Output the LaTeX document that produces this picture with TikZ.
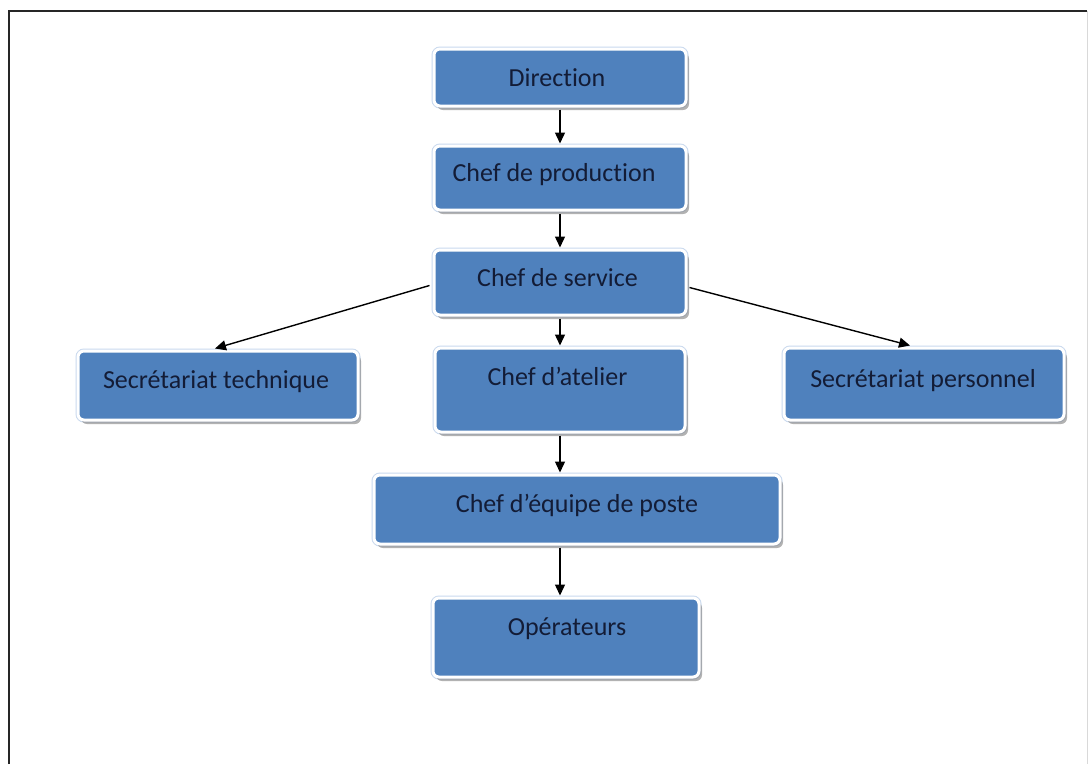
\documentclass[tikz,border=0pt]{standalone}
\usepackage{fontspec}
\setmainfont{Carlito}[Ligatures=NoCommon]
\usetikzlibrary{arrows.meta,shadows}
\definecolor{boxblue}{HTML}{4F81BD}
\definecolor{txtcol}{HTML}{131C36}
\definecolor{glow}{HTML}{C9D9EE}
\tikzset{
  orgbox/.style={rectangle, rounded corners=6pt, fill=boxblue, draw=white, line width=3pt,
    preaction={draw=glow, line width=5pt},
    drop shadow={shadow xshift=3pt, shadow yshift=-4pt, fill=gray, opacity=0.6},
    inner sep=0pt},
  lbl/.style={anchor=base, text=txtcol, font=\fontsize{26}{29}\selectfont, inner sep=0pt},
  arr/.style={line width=1.4pt, -{Triangle[length=11pt,width=10pt]}}
}
\begin{document}
\begin{tikzpicture}[x=1pt,y=-1pt]
\useasboundingbox (0,0) rectangle (1090,764);
\fill[white] (0,0) rectangle (1090,764);
% frame
\coordinate (fbl) at (9,764);
\coordinate (ftl) at (9,11);
\coordinate (ftr) at (1087,11);
\coordinate (fbr) at (1087,764);
\draw[line width=2pt, black!85] (fbl) -- (ftl) -- (ftr);
\draw[line width=1pt, black!15] (ftr) -- (fbr);
% boxes
\node[orgbox, minimum width=252pt, minimum height=57pt] (dir) at (560,77.5) {};
\node[orgbox, minimum width=252pt, minimum height=64pt] (prod) at (560,178) {};
\node[orgbox, minimum width=252pt, minimum height=65pt] (serv) at (560,282.5) {};
\node[orgbox, minimum width=250pt, minimum height=84pt] (atel) at (560,390) {};
\node[orgbox, minimum width=280pt, minimum height=69pt] (tech) at (218,385.5) {};
\node[orgbox, minimum width=280pt, minimum height=72pt] (pers) at (924,384) {};
\node[orgbox, minimum width=406pt, minimum height=69pt] (equi) at (577,509.5) {};
\node[orgbox, minimum width=266pt, minimum height=79pt] (oper) at (566,637.5) {};
% labels
\node[lbl] (tdir) at (557,86.7) {Direction};
\node[lbl] (tprod) at (554,181.7) {Chef de production};
\node[lbl] (tserv) at (557.5,286) {Chef de service};
\node[lbl] (tatel) at (557.5,385) {Chef d’atelier};
\node[lbl] (ttech) at (216,388) {Secrétariat technique};
\node[lbl] (tpers) at (923,387) {Secrétariat personnel};
\node[lbl] (tequi) at (577,512) {Chef d’équipe de poste};
\node[lbl] (toper) at (567,635) {Opérateurs};
% connectors
\draw[arr] ([yshift=-2pt]dir.south) -- ([yshift=1pt]prod.north);
\draw[arr] ([yshift=-2pt]prod.south) -- ([yshift=1pt]serv.north);
\draw[arr] ([yshift=-2pt]serv.south) -- ([yshift=1pt]atel.north);
\draw[arr] ([yshift=-2pt]atel.south) -- ([yshift=1pt]atel.south |- equi.north);
\draw[arr] ([yshift=-2pt]equi.south -| atel.south) -- ([yshift=1pt]oper.north -| atel.south);
\draw[arr] ([xshift=-3pt,yshift=-3pt]serv.west) -- ([xshift=-3pt,yshift=1pt]tech.north);
\draw[arr] ([xshift=2pt,yshift=-5pt]serv.east) -- ([xshift=-14pt,yshift=1pt]pers.north);
\end{tikzpicture}
\end{document}
